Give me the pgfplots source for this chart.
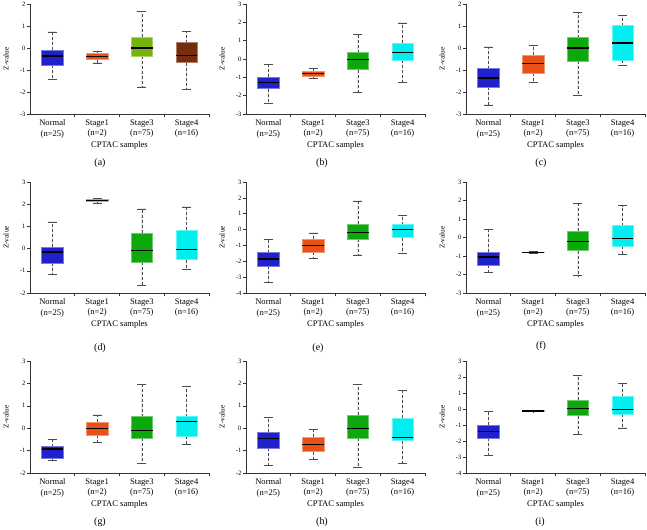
\documentclass[border=0pt]{standalone}
\usepackage{fontspec}
\setmainfont{Liberation Serif}
\usepackage{pgfplots}
\pgfplotsset{compat=1.18}
\usepgfplotslibrary{statistics}

\definecolor{cNormal}{RGB}{32,32,205}
\definecolor{cStageA}{RGB}{232,82,24}
\definecolor{cOlive}{RGB}{118,178,12}
\definecolor{cBrown}{RGB}{118,44,14}
\definecolor{cGreen}{RGB}{12,168,12}
\definecolor{cCyan}{RGB}{0,238,238}

\pgfplotsset{
  panel/.style={
    scale only axis, width=179bp, height=#1,
    anchor=south west,
    xmin=0.5, xmax=4.5,
    axis x line*=bottom, axis y line*=left,
    axis line style={-, line width=0.7bp, black!80},
    tick align=outside,
    major tick length=3bp, minor tick length=3bp,
    xtick={1,2,3,4},
    xticklabels={{Normal\\(n=25)},{Stage1\\(n=2)},{Stage3\\(n=75)},{Stage4\\(n=16)}},
    every major x tick/.style={draw=none},
    minor xtick={1.5,2.5,3.5,4.5},
    every minor x tick/.style={line width=0.6bp, black!80},
    every major y tick/.style={line width=0.6bp, black!80},
    ytick distance=1,
    xticklabel style={align=center, font=\fontsize{8.6}{10.4}\selectfont,
      inner sep=1bp, yshift=-1.5bp},
    yticklabel style={font=\fontsize{6.6}{7.5}\selectfont, inner sep=1.5bp},
    /pgf/number format/assume math mode=true,
    xlabel={CPTAC samples},
    xlabel style={font=\fontsize{8.6}{10}\selectfont, inner sep=0pt,
      at={(axis description cs:0.5,0)}, anchor=center, yshift=-31bp},
    clip=false,
  },
  zbox/.style={
    boxplot prepared,
    boxplot/draw direction=y,
    boxplot/box extend=0.48,
    boxplot/whisker extend=0.2,
    line width=0.6bp,
    boxplot/draw/lower whisker/.code={
      \draw[black!70, line width=0.7bp, dash pattern=on 3bp off 2bp]
        (boxplot box cs:\pgfplotsboxplotvalue{lower quartile},0.5) --
        (boxplot box cs:\pgfplotsboxplotvalue{lower whisker},0.5);
      \draw[black!70, line width=0.7bp]
        (boxplot whisker cs:\pgfplotsboxplotvalue{lower whisker},0) --
        (boxplot whisker cs:\pgfplotsboxplotvalue{lower whisker},1);
    },
    boxplot/draw/upper whisker/.code={
      \draw[black!70, line width=0.7bp, dash pattern=on 3bp off 2bp]
        (boxplot box cs:\pgfplotsboxplotvalue{upper quartile},0.5) --
        (boxplot box cs:\pgfplotsboxplotvalue{upper whisker},0.5);
      \draw[black!70, line width=0.7bp]
        (boxplot whisker cs:\pgfplotsboxplotvalue{upper whisker},0) --
        (boxplot whisker cs:\pgfplotsboxplotvalue{upper whisker},1);
    },
    boxplot/draw/median/.code={
      \draw[black, line width=1.2bp]
        (boxplot box cs:\pgfplotsboxplotvalue{median},0) --
        (boxplot box cs:\pgfplotsboxplotvalue{median},1);
    },
  },
}

% one box: colour, position, lower whisker, Q1, median, Q3, upper whisker
\newcommand\bx[7]{%
  \addplot[zbox, fill=#1, draw=#1!60!white,
    boxplot prepared={draw position=#2, lower whisker=#3, lower quartile=#4,
      median=#5, upper quartile=#6, upper whisker=#7}] coordinates {};}

\newcommand\zlabel{\node[rotate=90, font=\fontsize{7.4}{8}\selectfont]
  at ([xshift=-24bp]rel axis cs:0,0.5) {Z-value};}

\tikzset{plab/.style={font=\fontsize{10}{12}\selectfont}}

\begin{document}
\begin{tikzpicture}
\path[use as bounding box] (0,0) rectangle (647bp,-530bp);

% (a)
\begin{axis}[panel=110bp, at={(30bp,-114bp)}, ymin=-3, ymax=2]
  \zlabel
  \bx{cNormal}{1}{-1.42}{-0.79}{-0.36}{-0.10}{0.73}
  \bx{cStageA}{2}{-0.68}{-0.53}{-0.38}{-0.26}{-0.14}
  \bx{cOlive}{3}{-1.77}{-0.38}{0.00}{0.50}{1.67}
  \bx{cBrown}{4}{-1.88}{-0.67}{-0.33}{0.24}{0.74}
\end{axis}
\node[plab] at (100bp,-163bp) {(a)};

% (b)
\begin{axis}[panel=110bp, at={(246bp,-114bp)}, ymin=-3, ymax=3]
  \zlabel
  \bx{cNormal}{1}{-2.41}{-1.61}{-1.28}{-0.99}{-0.31}
  \bx{cStageA}{2}{-1.08}{-0.93}{-0.79}{-0.68}{-0.53}
  \bx{cGreen}{3}{-1.83}{-0.58}{-0.04}{0.35}{1.33}
  \bx{cCyan}{4}{-1.28}{-0.07}{0.35}{0.88}{1.97}
\end{axis}
\node[plab] at (322bp,-163bp) {(b)};

% (c)
\begin{axis}[panel=110bp, at={(466bp,-114bp)}, ymin=-3, ymax=2]
  \zlabel
  \bx{cNormal}{1}{-2.59}{-1.77}{-1.36}{-0.94}{0.05}
  \bx{cStageA}{2}{-1.56}{-1.14}{-0.71}{-0.33}{0.12}
  \bx{cGreen}{3}{-2.15}{-0.59}{0.00}{0.47}{1.61}
  \bx{cCyan}{4}{-0.80}{-0.55}{0.23}{1.02}{1.47}
\end{axis}
\node[plab] at (541bp,-163bp) {(c)};

% (d)
\begin{axis}[panel=111bp, at={(30bp,-293bp)}, ymin=-2, ymax=3]
  \zlabel
  \bx{cNormal}{1}{-1.17}{-0.65}{-0.15}{0.06}{1.20}
  \bx{cStageA}{2}{2.06}{2.12}{2.16}{2.21}{2.25}
  \bx{cGreen}{3}{-1.65}{-0.60}{-0.09}{0.71}{1.79}
  \bx{cCyan}{4}{-0.95}{-0.50}{-0.03}{0.84}{1.88}
\end{axis}
\node[plab] at (100bp,-348bp) {(d)};

% (e)
\begin{axis}[panel=111bp, at={(246bp,-293bp)}, ymin=-4, ymax=3]
  \zlabel
  \bx{cNormal}{1}{-3.35}{-2.31}{-1.85}{-1.46}{-0.62}
  \bx{cStageA}{2}{-1.83}{-1.41}{-1.00}{-0.60}{-0.21}
  \bx{cGreen}{3}{-1.60}{-0.60}{-0.17}{0.33}{1.81}
  \bx{cCyan}{4}{-1.50}{-0.50}{0.02}{0.31}{0.91}
\end{axis}
\node[plab] at (318bp,-348bp) {(e)};

% (f)
\begin{axis}[panel=111bp, at={(466bp,-293bp)}, ymin=-3, ymax=3]
  \zlabel
  \bx{cNormal}{1}{-1.89}{-1.48}{-1.05}{-0.80}{0.42}
  \bx{cStageA}{2}{-0.84}{-0.82}{-0.80}{-0.78}{-0.76}
  \bx{cGreen}{3}{-2.07}{-0.71}{-0.22}{0.35}{1.84}
  \bx{cCyan}{4}{-0.92}{-0.47}{-0.04}{0.64}{1.73}
\end{axis}
\node[plab] at (541bp,-346bp) {(f)};

% (g)
\begin{axis}[panel=112bp, at={(30bp,-473bp)}, ymin=-2, ymax=3]
  \zlabel
  \bx{cNormal}{1}{-1.45}{-1.34}{-0.93}{-0.82}{-0.49}
  \bx{cStageA}{2}{-0.62}{-0.31}{-0.01}{0.28}{0.59}
  \bx{cGreen}{3}{-1.57}{-0.45}{-0.09}{0.52}{1.97}
  \bx{cCyan}{4}{-0.73}{-0.37}{0.31}{0.52}{1.87}
\end{axis}
\node[plab] at (100bp,-522bp) {(g)};

% (h)
\begin{axis}[panel=112bp, at={(246bp,-473bp)}, ymin=-2, ymax=3]
  \zlabel
  \bx{cNormal}{1}{-1.65}{-0.88}{-0.46}{-0.18}{0.47}
  \bx{cStageA}{2}{-1.38}{-1.05}{-0.73}{-0.40}{-0.06}
  \bx{cGreen}{3}{-1.74}{-0.45}{-0.03}{0.58}{1.96}
  \bx{cCyan}{4}{-1.58}{-0.56}{-0.43}{0.46}{1.68}
\end{axis}
\node[plab] at (322bp,-522bp) {(h)};

% (i)
\begin{axis}[panel=112bp, at={(466bp,-473bp)}, ymin=-4, ymax=3]
  \zlabel
  \bx{cNormal}{1}{-2.91}{-1.80}{-1.43}{-1.01}{-0.15}
  \bx{cStageA}{2}{-0.17}{-0.16}{-0.13}{-0.10}{-0.09}
  \bx{cGreen}{3}{-1.58}{-0.42}{0.04}{0.55}{2.11}
  \bx{cCyan}{4}{-1.18}{-0.32}{-0.02}{0.78}{1.62}
\end{axis}
\node[plab] at (540bp,-522bp) {(i)};
\end{tikzpicture}
\end{document}
